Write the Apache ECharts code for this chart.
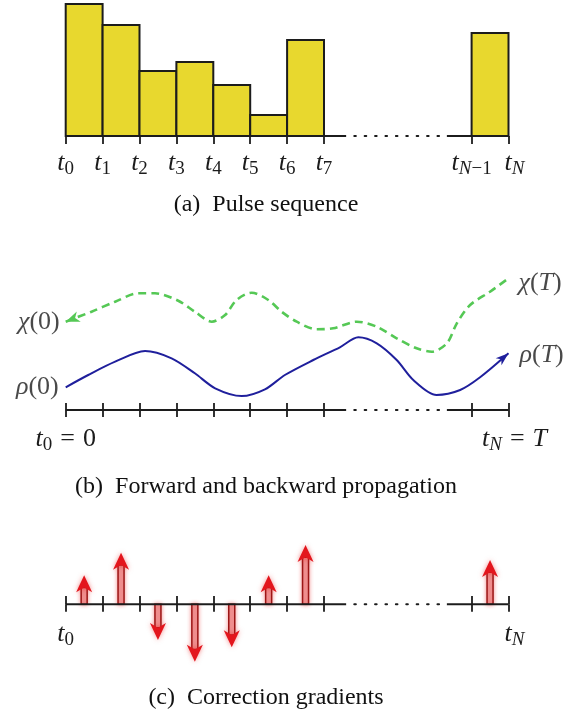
<!DOCTYPE html>
<html>
<head>
<meta charset="utf-8">
<script src="https://cdn.jsdelivr.net/npm/echarts@6/dist/echarts.min.js"></script>
<style>
  html, body { margin: 0; padding: 0; background: #ffffff; }
  #chart { width: 571px; height: 720px; }
</style>
</head>
<body>
<div id="chart"></div>
<script>
// ---- time grid: t_0 ... t_7, a gap, then t_{N-1}, t_N ----
const gridTicks = [0, 1, 2, 3, 4, 5, 6, 7, 11, 12];
const pulseTickLabels = ['t_0', 't_1', 't_2', 't_3', 't_4', 't_5', 't_6', 't_7', 't_{N-1}', 't_N'];
const endTicks = [0, 12];
const propTickLabels = ['t_0 = 0', 't_N = T'];
const gradTickLabels = ['t_0', 't_N'];

// ---- (a) piecewise-constant pulse amplitudes, slot k spans [start, start + 1] ----
const pulseStarts = [0, 1, 2, 3, 4, 5, 6, 11];
const pulseAmps = [132, 111, 65, 74, 51, 21, 96, 103];

// ---- time axis: solid runs and the dotted gap ----
const axisSolidRuns = [[0, 7.6], [10.33, 12]];
const axisDottedRuns = [[7.82, 10.15]];

// ---- (b) forward state rho(t) ----
const rhoT = [0, 0.61, 1.34, 2.15, 2.87, 3.50, 4.05, 4.77, 5.40, 5.94, 6.71, 7.43, 7.93, 8.43, 8.97, 9.42, 10.05, 10.69, 11.23, 12];
const rhoV = [22.7, 35, 48.3, 59, 51.7, 36.7, 21.7, 14, 20.7, 35, 50, 62.7, 72.7, 66.7, 50, 30, 15, 20, 32.7, 56.7];

// ---- (b) backward costate chi(t) ----
const chiT = [0, 0.70, 1.34, 1.97, 2.42, 3.05, 3.50, 3.96, 4.32, 4.63, 5.04, 5.49, 5.85, 6.26, 6.80, 7.25, 7.89, 8.43, 8.97, 9.51, 9.92, 10.33, 10.60, 10.96, 11.50, 12];
const chiV = [88.3, 98.3, 108.3, 116.7, 116.7, 109.3, 98.3, 88.3, 95, 110, 117.3, 110, 98.3, 88.3, 80.7, 81.7, 88.3, 83.3, 71.7, 61.7, 58.3, 66.7, 86.7, 105, 118.3, 131.7];
const curveLabels = { chiStart: 'χ(0)', chiEnd: 'χ(T)', rhoStart: 'ρ(0)', rhoEnd: 'ρ(T)' };

// ---- (c) gradient per time slot, drawn at slot midpoints ----
const gradSlots = [0.5, 1.5, 2.5, 3.5, 4.5, 5.5, 6.5, 11.5];
const gradValues = [29, 51.6, -35.7, -57.4, -43, 29, 59.3, 44.3];

const captions = ['(a)\u2002Pulse sequence', '(b)\u2002Forward and backward propagation', '(c)\u2002Correction gradients'];

// ---- styling ----
const INK = '#1c1c1c';
const MATH = '"Liberation Serif", "DejaVu Serif", serif';
const mathRich = {
  i:  { fontFamily: MATH, fontStyle: 'italic', fontSize: 26, color: INK },
  iL: { fontFamily: MATH, fontStyle: 'italic', fontSize: 26, color: INK, padding: [0, 0, 0, 12] },
  r:  { fontFamily: MATH, fontSize: 26, color: INK },
  op: { fontFamily: MATH, fontSize: 26, color: INK, padding: [0, 8, 0, 8] },
  si: { fontFamily: MATH, fontStyle: 'italic', fontSize: 19, color: INK, padding: [12, 0, 0, 0] },
  sr: { fontFamily: MATH, fontSize: 19, color: INK, padding: [12, 0, 0, 0] }
};

// tiny TeX-ish to rich-text converter: letters italic, digits/punctuation upright, _x / _{..} subscripts
function texRich(src, leadPad) {
  const isLetter = ch => /[A-Za-z\u03b1-\u03c9]/.test(ch);
  let out = '';
  let first = true;
  const push = (style, ch) => {
    if (first && leadPad && style === 'i') style = 'iL';
    first = false;
    out += '{' + style + '|' + ch + '}';
  };
  for (let k = 0; k < src.length; k++) {
    const c = src[k];
    if (c === '_') {
      let sub = src[k + 1];
      k++;
      if (sub === '{') {
        const end = src.indexOf('}', k);
        sub = src.slice(k + 1, end);
        k = end;
      }
      for (const ch of sub) push(isLetter(ch) ? 'si' : 'sr', ch === '-' ? '\u2212' : ch);
    } else if (c === '=') {
      push('op', '=');
    } else if (c !== ' ') {
      push(isLetter(c) ? 'i' : 'r', c);
    }
  }
  return out;
}

function labelFormatter(values, labels) {
  const last = values[values.length - 1];
  return v => {
    const idx = values.indexOf(v);
    return idx < 0 ? '' : texRich(labels[idx], v === last);
  };
}

const LEFT = 65.7, RIGHT = 62.5;
const TICK_STYLE = { color: INK, width: 1.8 };

// every time axis sits on the bottom edge of its grid (value 0 of the y axis)
function timeAxis(gridIndex, opts) {
  return Object.assign({
    type: 'value', gridIndex, min: 0, max: 12, position: 'bottom',
    axisLine: { show: false, onZero: false },
    splitLine: { show: false },
    axisTick: { show: true, customValues: gridTicks, length: 7, inside: false, lineStyle: TICK_STYLE },
    axisLabel: { show: false }
  }, opts);
}

function segmentSeries(xAxisIndex, yAxisIndex) {
  const data = axisSolidRuns.map(r => [r[0], r[1], 0]).concat(axisDottedRuns.map(r => [r[0], r[1], 1]));
  return {
    type: 'custom', xAxisIndex, yAxisIndex, z: 5, silent: true,
    data,
    renderItem: (params, api) => {
      const a = api.coord([api.value(0), 0]);
      const b = api.coord([api.value(1), 0]);
      const dotted = api.value(2) === 1;
      return {
        type: 'line',
        shape: { x1: a[0], y1: a[1], x2: b[0], y2: b[1] },
        style: dotted
          ? { stroke: INK, lineWidth: 2, lineDash: [1.6, 8.8], lineCap: 'round' }
          : { stroke: INK, lineWidth: 2 }
      };
    }
  };
}

function arrowHead(color, len, wid) {
  return (params, api) => {
    const tip = api.coord([api.value(0), api.value(1)]);
    const from = api.coord([api.value(2), api.value(3)]);
    const ang = Math.atan2(tip[1] - from[1], tip[0] - from[0]);
    const c = Math.cos(ang), s = Math.sin(ang);
    const pt = (u, v) => [tip[0] + u * c - v * s, tip[1] + u * s + v * c];
    return {
      type: 'polygon',
      shape: { points: [pt(0, 0), pt(-len, wid / 2), pt(-len * 0.72, 0), pt(-len, -wid / 2)] },
      style: { fill: color }
    };
  };
}

function gradientArrow(params, api) {
  const base = api.coord([api.value(0), 0]);
  const tip = api.coord([api.value(0), api.value(1)]);
  const dir = tip[1] < base[1] ? -1 : 1;
  const x = base[0];
  const L = 17, W = 16, SW = 6;
  const neck = tip[1] - dir * L * 0.72;
  const back = tip[1] - dir * L;
  return {
    type: 'group',
    children: [
      {
        type: 'rect',
        shape: { x: x - SW / 2, y: Math.min(base[1], neck), width: SW, height: Math.abs(neck - base[1]) },
        style: { fill: '#f09a9a', stroke: '#9c1616', lineWidth: 1.5, shadowBlur: 4, shadowColor: 'rgba(235,40,40,0.45)' }
      },
      {
        type: 'polygon',
        shape: { points: [[x, tip[1]], [x + W / 2, back], [x, neck], [x - W / 2, back]] },
        style: { fill: '#e3161d', shadowBlur: 5, shadowColor: 'rgba(235,40,40,0.5)' }
      }
    ]
  };
}

const rhoData = rhoT.map((t, k) => [t, rhoV[k]]);
const chiData = chiT.map((t, k) => [t, chiV[k]]);
const nR = rhoData.length, nC = chiData.length;

const endpointLabels = [
  { value: chiData[0], label: { position: 'left', distance: 6, formatter: texRich(curveLabels.chiStart) } },
  { value: rhoData[0], label: { position: 'left', distance: 7, formatter: texRich(curveLabels.rhoStart) } },
  { value: chiData[nC - 1], label: { position: 'right', distance: 10, offset: [0, 5], formatter: texRich(curveLabels.chiEnd) } },
  { value: rhoData[nR - 1], label: { position: 'right', distance: 11, offset: [0, 2], formatter: texRich(curveLabels.rhoEnd) } }
];

const chart = echarts.init(document.getElementById('chart'), null, { renderer: 'canvas' });

chart.setOption({
  animation: false,
  backgroundColor: '#ffffff',
  grid: [
    { left: LEFT, right: RIGHT, top: 0, height: 136, outerBoundsMode: 'none' },
    { left: LEFT, right: RIGHT, top: 270, height: 140, outerBoundsMode: 'none' },
    { left: LEFT, right: RIGHT, top: 539.3, height: 65, outerBoundsMode: 'none' }
  ],
  xAxis: [
    timeAxis(0, {
      axisTick: { show: true, customValues: gridTicks, length: 8, inside: false, lineStyle: TICK_STYLE },
      axisLabel: { show: true, customValues: gridTicks, margin: 27, verticalAlign: 'middle',
        formatter: labelFormatter(gridTicks, pulseTickLabels), rich: mathRich }
    }),
    timeAxis(1, {
      axisTick: { show: true, customValues: gridTicks, length: 7, inside: false, lineStyle: TICK_STYLE },
      axisLabel: { show: true, customValues: endTicks, margin: 29, verticalAlign: 'middle',
        formatter: labelFormatter(endTicks, propTickLabels), rich: mathRich }
    }),
    timeAxis(1, {
      axisTick: { show: true, customValues: gridTicks, length: 7, inside: true, lineStyle: TICK_STYLE }
    }),
    timeAxis(2, {
      axisTick: { show: true, customValues: gridTicks, length: 7.5, inside: false, lineStyle: TICK_STYLE },
      axisLabel: { show: true, customValues: endTicks, margin: 30, verticalAlign: 'middle',
        formatter: labelFormatter(endTicks, gradTickLabels), rich: mathRich }
    }),
    timeAxis(2, {
      axisTick: { show: true, customValues: gridTicks, length: 8.3, inside: true, lineStyle: TICK_STYLE }
    })
  ],
  yAxis: [
    { type: 'value', gridIndex: 0, min: 0, max: 136, show: false },
    { type: 'value', gridIndex: 1, min: 0, max: 140, show: false },
    { type: 'value', gridIndex: 2, min: 0, max: 65, show: false }
  ],
  series: [
    // (a) pulse amplitudes
    {
      type: 'custom', xAxisIndex: 0, yAxisIndex: 0, z: 3,
      data: pulseStarts.map((s, k) => [s, pulseAmps[k]]),
      renderItem: (params, api) => {
        const p0 = api.coord([api.value(0), 0]);
        const p1 = api.coord([api.value(0) + 1, api.value(1)]);
        return {
          type: 'rect',
          shape: { x: p0[0], y: p1[1], width: p1[0] - p0[0], height: p0[1] - p1[1] },
          style: { fill: '#e8d82e', stroke: INK, lineWidth: 2 }
        };
      }
    },
    segmentSeries(0, 0),
    // (b) propagation
    segmentSeries(1, 1),
    {
      type: 'line', xAxisIndex: 1, yAxisIndex: 1, data: rhoData, smooth: 0.3,
      symbol: 'none', z: 4, silent: true,
      lineStyle: { color: '#1f1f9c', width: 2 }
    },
    {
      type: 'line', xAxisIndex: 1, yAxisIndex: 1, data: chiData, smooth: 0.3,
      symbol: 'none', z: 4, silent: true,
      lineStyle: { color: '#55c855', width: 2.6, type: [8, 5] }
    },
    {
      type: 'custom', xAxisIndex: 1, yAxisIndex: 1, z: 6, silent: true,
      data: [[rhoData[nR - 1][0], rhoData[nR - 1][1], rhoData[nR - 2][0], rhoData[nR - 2][1]]],
      renderItem: arrowHead('#1f1f9c', 13, 9)
    },
    {
      type: 'custom', xAxisIndex: 1, yAxisIndex: 1, z: 6, silent: true,
      data: [[chiData[0][0], chiData[0][1], chiData[1][0], chiData[1][1]]],
      renderItem: arrowHead('#55c855', 14, 11)
    },
    {
      type: 'scatter', xAxisIndex: 1, yAxisIndex: 1, symbolSize: 0, silent: true, z: 7,
      data: endpointLabels,
      label: { show: true, rich: mathRich, color: INK }
    },
    // (c) correction gradients (negative values extend below the time axis)
    {
      type: 'custom', xAxisIndex: 3, yAxisIndex: 2, z: 4, silent: true, clip: false,
      data: gradSlots.map((s, k) => [s, gradValues[k]]),
      renderItem: gradientArrow
    },
    segmentSeries(3, 2)
  ],
  graphic: captions.map((text, k) => ({
    type: 'text',
    x: 266,
    y: [205, 487, 698][k],
    silent: true,
    style: {
      text,
      font: '24px "Liberation Serif", "Times New Roman", serif',
      fill: '#111111',
      align: 'center',
      verticalAlign: 'middle'
    }
  }))
});
</script>
</body>
</html>
